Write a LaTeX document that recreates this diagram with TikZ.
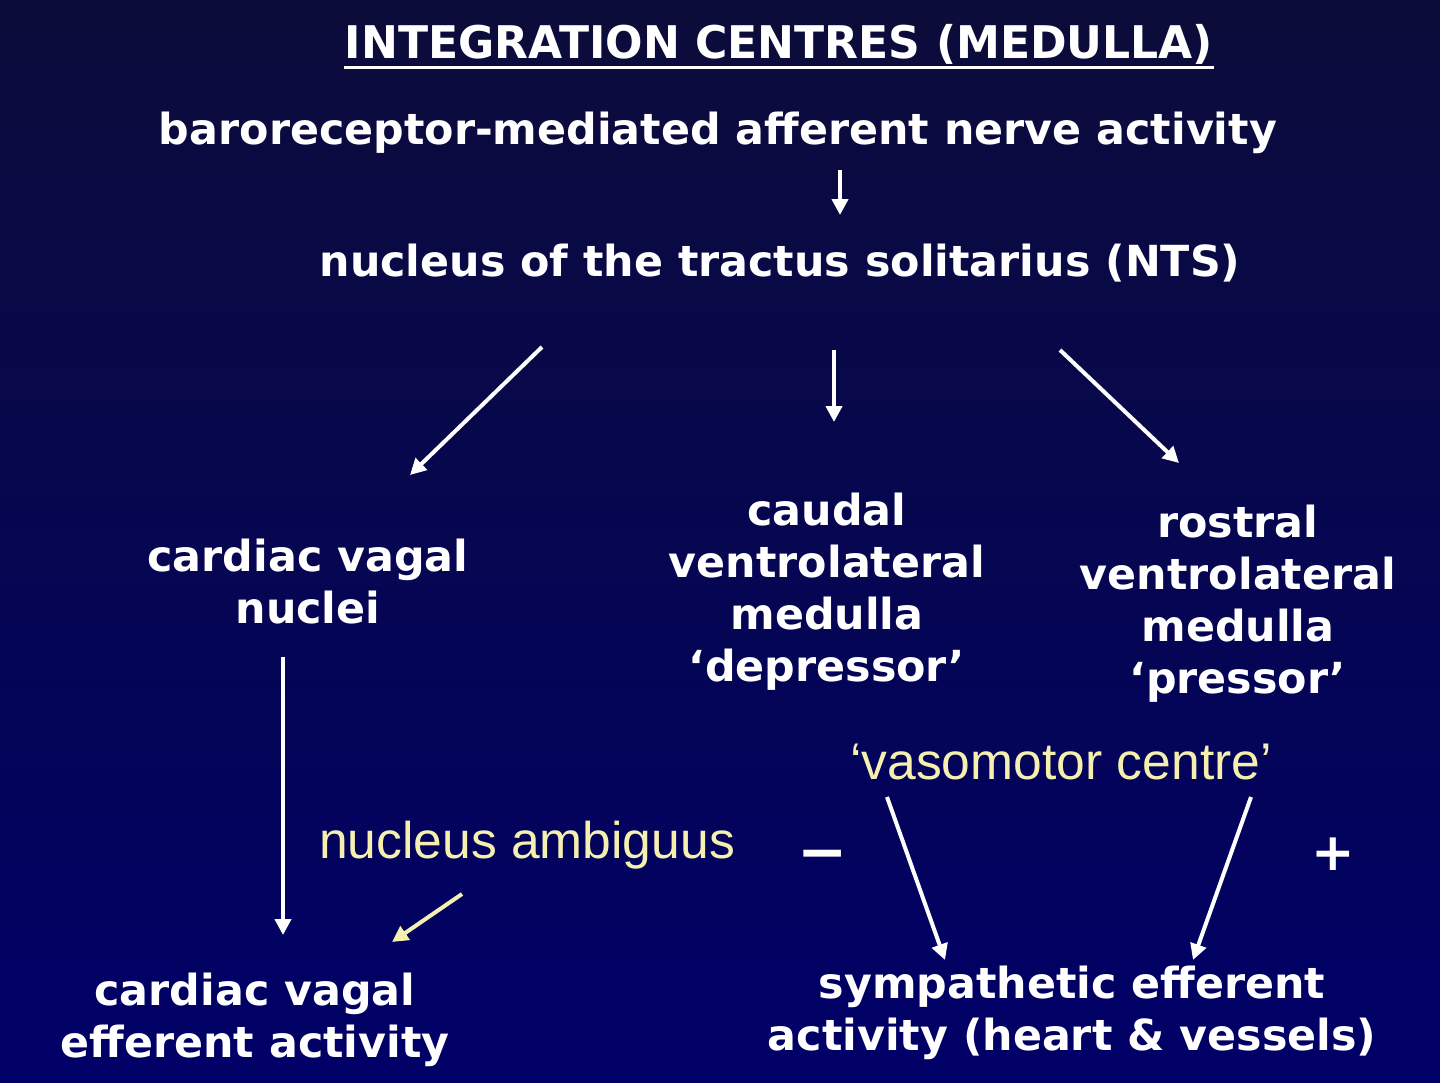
\documentclass[tikz,border=0pt]{standalone}
\usepackage{fontspec}
\usepackage{graphicx}
\setmainfont{DejaVu Sans}
\newfontfamily\arialfont{Liberation Sans}
\usetikzlibrary{arrows.meta}
\definecolor{bgtop}{RGB}{12,12,58}
\definecolor{bgbot}{RGB}{0,0,104}
\definecolor{cream}{RGB}{245,240,175}
\tikzset{
  main/.style={text=white, font=\bfseries\fontsize{21.4}{26}\selectfont, align=center, inner sep=0pt},
  yel/.style={text=cream, font=\arialfont\fontsize{25.8}{30}\selectfont, inner sep=0pt},
  conn/.style={draw=white, line width=2pt, -{Triangle[length=8pt,width=8pt]}},
  yconn/.style={draw=cream, line width=2pt, -{Triangle[length=8pt,width=8pt]}},
}
\begin{document}
\begin{tikzpicture}[x=0.5pt,y=-0.5pt]
\useasboundingbox (0,0) rectangle (1440,1082);
\shade[top color=bgtop, bottom color=bgbot] (0,0) rectangle (1440,1082);

\node[text=white, font=\bfseries\fontsize{22.5}{26}\selectfont, inner sep=0pt] (title) at (779,44) {\scalebox{0.98}[1]{INTEGRATION CENTRES (MEDULLA)}};
\draw[white, line width=1.5pt] (title.south west) ++(0,3) coordinate (ul1) -- (title.south east |- ul1);

\node[main] (baro) at (718,133) {baroreceptor-mediated afferent nerve activity};
\node[main] (nts) at (780,263) {nucleus of the tractus solitarius (NTS)};
\node[main] (cvn) at (308,582) {cardiac vagal\\nuclei};
\node[main] (cvlm) at (827,592) {caudal\\ventrolateral\\medulla\\‘depressor’};
\node[main] (rvlm) at (1238,604) {rostral\\ventrolateral\\medulla\\‘pressor’};
\node[yel] (vmc) at (1061,762) {‘vasomotor centre’};
\node[yel] (na) at (527,845) {nucleus ambiguus};
\node[text=white, font=\bfseries\fontsize{30}{30}\selectfont, inner sep=0pt] (minus) at (823,861) {−};
\node[text=white, font=\bfseries\fontsize{26}{30}\selectfont, inner sep=0pt] (plus) at (1333,854) {+};
\node[main] (cvea) at (255,1020) {cardiac vagal\\efferent activity};
\node[main] (sea) at (1072,1013) {sympathetic efferent\\activity (heart \& vessels)};

\coordinate (a1s) at (840,170); \coordinate (a1e) at (840,215);
\coordinate (a2s) at (542,347); \coordinate (a2e) at (410,475);
\coordinate (a3s) at (834,350); \coordinate (a3e) at (834,422);
\coordinate (a4s) at (1060,350); \coordinate (a4e) at (1179,463);
\coordinate (a5s) at (283,657); \coordinate (a5e) at (283,935);
\coordinate (a6s) at (462,894); \coordinate (a6e) at (392,942);
\coordinate (a7s) at (887,797); \coordinate (a7e) at (945,960);
\coordinate (a8s) at (1251,797); \coordinate (a8e) at (1193,960);

\draw[conn] (a1s) -- (a1e);
\draw[conn] (a2s) -- (a2e);
\draw[conn] (a3s) -- (a3e);
\draw[conn] (a4s) -- (a4e);
\draw[conn] (a5s) -- (a5e);
\draw[yconn] (a6s) -- (a6e);
\draw[conn] (a7s) -- (a7e);
\draw[conn] (a8s) -- (a8e);
\end{tikzpicture}
\end{document}
